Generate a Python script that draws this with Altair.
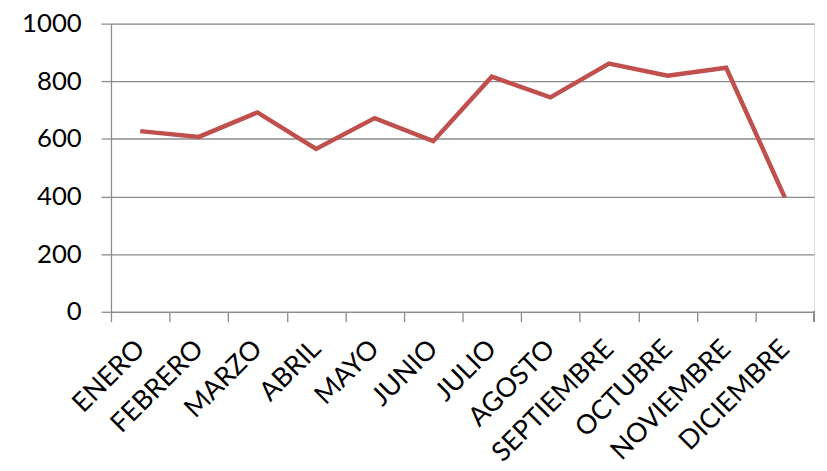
import altair as alt
import pandas as pd

months = ["ENERO", "FEBRERO", "MARZO", "ABRIL", "MAYO", "JUNIO", "JULIO",
          "AGOSTO", "SEPTIEMBRE", "OCTUBRE", "NOVIEMBRE", "DICIEMBRE"]
values = [627, 607, 692, 565, 672, 592, 816, 744, 861, 819, 847, 397]
y_ticks = [0, 200, 400, 600, 800, 1000]

df = pd.DataFrame({"mes": months, "valor": values})

W, H = 710, 291
step = W / len(months)
GRAY = "#8c8c8c"
FONT = "Lato"

x_enc = alt.X("mes:N", sort=months,
              scale=alt.Scale(type="point", padding=0.5),
              axis=alt.Axis(title=None, labelAngle=-45, labelAlign="right",
                            labelBaseline="middle", labelFontSize=27,
                            labelFont=FONT, labelColor="#000000",
                            labelPadding=23,
                            tickOffset=-step / 2, labelOffset=step / 2,
                            tickSize=10, tickColor=GRAY, tickWidth=1.3,
                            domainColor=GRAY, domainWidth=1.3, grid=False))

y_enc = alt.Y("valor:Q",
              scale=alt.Scale(domain=[0, 1000], nice=False),
              axis=alt.Axis(title=None, values=y_ticks, format="d",
                            labelFontSize=26,
                            labelFont=FONT, labelColor="#000000",
                            labelPadding=20,
                            tickSize=10, tickColor=GRAY, tickWidth=1.3,
                            domainColor=GRAY, domainWidth=1.3,
                            grid=True, gridColor=GRAY, gridWidth=1.3))

line = alt.Chart(df).mark_line(color="#C0504D", strokeWidth=4.5,
                               strokeJoin="miter").encode(x=x_enc, y=y_enc)

end_tick = alt.Chart(df).mark_rule(color=GRAY, strokeWidth=1.3).encode(
    x=alt.value(W), y=alt.value(H), y2=alt.value(H + 10))

chart = alt.layer(line, end_tick).properties(
    width=W, height=H,
    autosize=alt.AutoSizeParams(type="none"),
    padding={"left": 104, "top": 13.5, "right": 5, "bottom": 158},
).configure_view(stroke=None).configure(background="#ffffff")

chart.save("out.html", embed_options={"renderer": "svg", "actions": False})
